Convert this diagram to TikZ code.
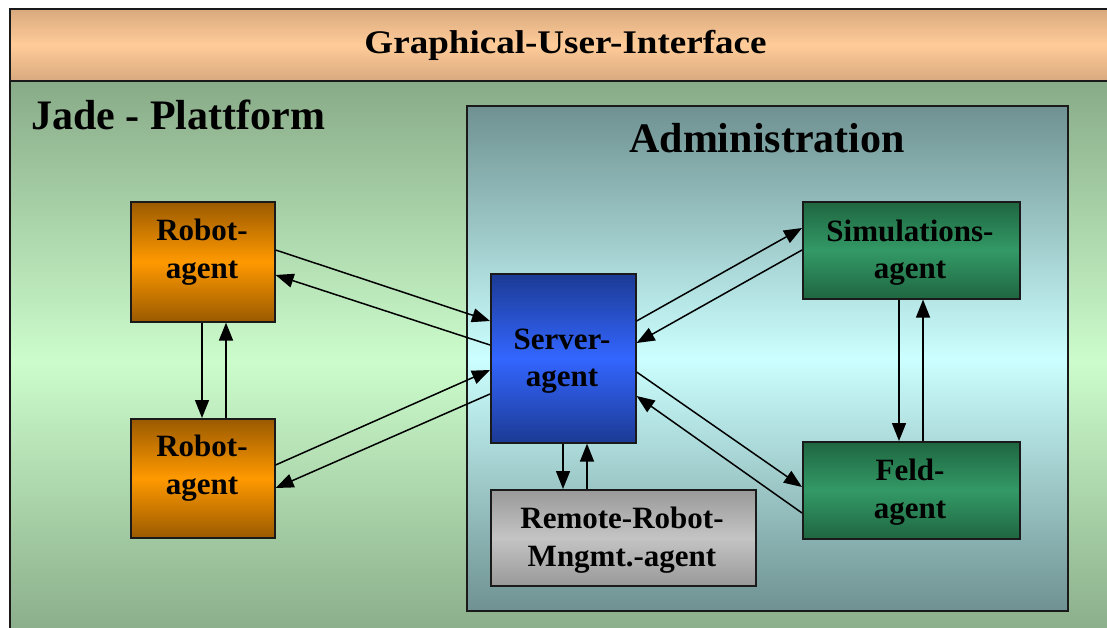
\documentclass[tikz,border=0pt]{standalone}
\usepackage{fontspec}
\setmainfont{Liberation Serif}
\usetikzlibrary{arrows.meta}

\definecolor{guidark}{HTML}{D8A97E}
\definecolor{guilight}{HTML}{FFCC99}
\definecolor{jadedark}{HTML}{88AB88}
\definecolor{jadelight}{HTML}{CCFCCC}
\definecolor{admdark}{HTML}{6F9191}
\definecolor{admlight}{HTML}{CCFFFF}
\definecolor{robdark}{HTML}{9A5A00}
\definecolor{roblight}{HTML}{FF9900}
\definecolor{srvdark}{HTML}{1C3A94}
\definecolor{srvlight}{HTML}{3366FF}
\definecolor{remdark}{HTML}{999999}
\definecolor{remlight}{HTML}{C4C4C4}
\definecolor{simdark}{HTML}{1F6640}
\definecolor{simlight}{HTML}{339966}
\definecolor{edge}{HTML}{1A1A1A}

\newcommand\agentfont{\fontsize{31}{37.5}\selectfont\bfseries}
\newcommand\titlefont{\fontsize{42}{48}\selectfont\bfseries}
\newcommand\guifont{\fontsize{33}{36}\selectfont\bfseries}

\begin{document}
\begin{tikzpicture}[x=1pt,y=-1pt,
  panel/.style={draw=edge, line width=2pt, inner sep=0pt, anchor=north west, shading=axis},
  agentbox/.style={draw=edge, line width=1.6pt, inner sep=0pt, anchor=north west, shading=axis},
  guibar/.style={panel, top color=guidark, bottom color=guidark, middle color=guilight, font=\guifont},
  jadepanel/.style={panel, top color=jadedark, bottom color=jadedark, middle color=jadelight},
  admpanel/.style={panel, top color=admdark, bottom color=admdark, middle color=admlight},
  robotbox/.style={agentbox, top color=robdark, bottom color=robdark, middle color=roblight},
  serverbox/.style={agentbox, top color=srvdark, bottom color=srvdark, middle color=srvlight},
  remotebox/.style={agentbox, top color=remdark, bottom color=remdark, middle color=remlight},
  simbox/.style={agentbox, top color=simdark, bottom color=simdark, middle color=simlight},
  boxtext/.style={font=\agentfont, align=center, inner sep=0pt, text=black},
  title/.style={font=\titlefont, inner sep=0pt, text=black},
  flow/.style={draw=black, line width=1.5pt, -{Triangle[length=18pt,width=14pt]}}
]
\useasboundingbox (0,0) rectangle (1107,628);
\clip (0,0) rectangle (1107,628);
\fill[white] (0,0) rectangle (1107,628);

% outer frames
\node[jadepanel, minimum width=1111pt, minimum height=560pt] (jade) at (9,80) {};
\node[guibar, minimum width=1111pt, minimum height=72pt] (gui) at (9,8)
  {\resizebox{402pt}{\height}{Graphical-User-Interface}};
\node[title, anchor=base west] (jadelabel) at (31,130) {Jade - Plattform};

% administration area with a thin drop shadow
\fill[edge] (467,106) rectangle (1069,612);
\node[admpanel, minimum width=601pt, minimum height=505pt] (adm) at (466,105) {};
\node[title, anchor=base] (admlabel) at (767,153) {Administration};

% agents
\node[robotbox, minimum width=144pt, minimum height=120pt] (r1) at (130,201) {};
\node[robotbox, minimum width=144pt, minimum height=119pt] (r2) at (130,418) {};
\node[serverbox, minimum width=145pt, minimum height=169pt] (srv) at (490,273) {};
\fill[edge] (491,490) rectangle (756,587);
\node[remotebox, minimum width=265pt, minimum height=96pt] (rem) at (490,489) {};
\node[simbox, minimum width=217pt, minimum height=97pt] (sim) at (802,201) {};
\node[simbox, minimum width=217pt, minimum height=97pt] (feld) at (802,441) {};

\node[boxtext] (r1txt) at (202,252) {Robot-\\agent};
\node[boxtext] (r2txt) at (202,468) {Robot-\\agent};
\node[boxtext] (srvtxt) at (562,361) {Server-\\agent};
\node[boxtext] (remtxt) at (622,540) {Remote-Robot-\\Mngmt.-agent};
\node[boxtext] (simtxt) at (910,252.5) {Simulations-\\agent};
\node[boxtext] (feldtxt) at (910,492) {Feld-\\agent};

% message flows
\draw[flow] (r1.east |- 0,250) -- (srv.west |- 0,321);
\draw[flow] (srv.west |- 0,345) -- (r1.east |- 0,275);
\draw[flow] (r2.east |- 0,465) -- (srv.west |- 0,370);
\draw[flow] (srv.west |- 0,394) -- (r2.east |- 0,488);
\draw[flow] (r1.south -| 202,0) -- (r2.north -| 202,0);
\draw[flow] (r2.north -| 226,0) -- (r1.south -| 226,0);
\draw[flow] (srv.east |- 0,321) -- (sim.west |- 0,228);
\draw[flow] (sim.west |- 0,250) -- (srv.east |- 0,343);
\draw[flow] (srv.east |- 0,372) -- (feld.west |- 0,487);
\draw[flow] (feld.west |- 0,513) -- (srv.east |- 0,396);
\draw[flow] (srv.south -| 563,0) -- (rem.north -| 563,0);
\draw[flow] (rem.north -| 587,0) -- (srv.south -| 587,0);
\draw[flow] (sim.south -| 899,0) -- (feld.north -| 899,0);
\draw[flow] (feld.north -| 923,0) -- (sim.south -| 923,0);
\end{tikzpicture}
\end{document}
